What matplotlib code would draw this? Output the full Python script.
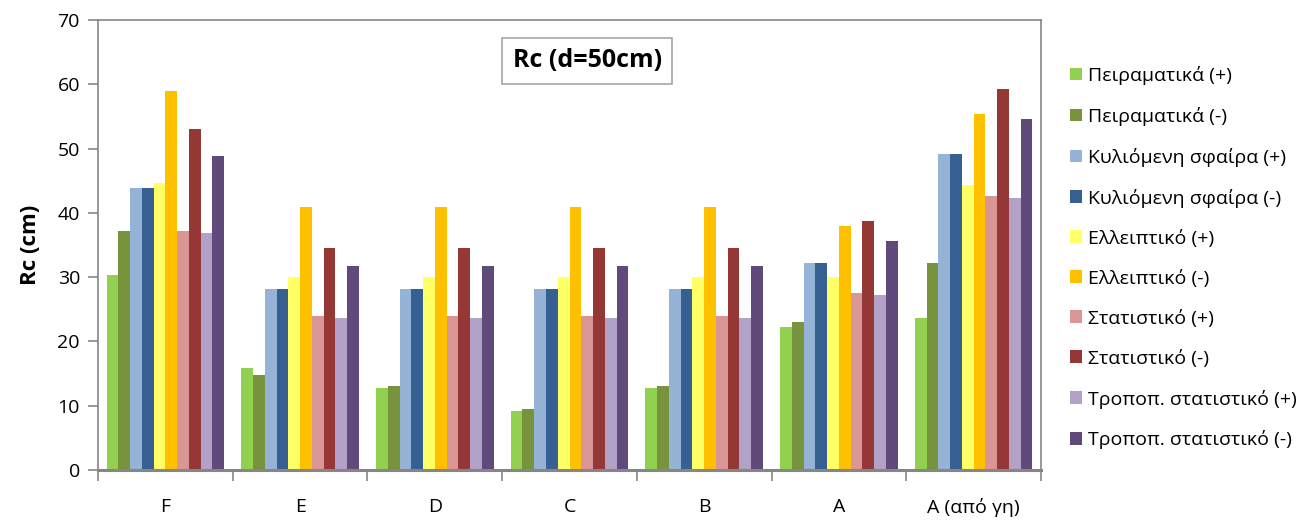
import matplotlib
matplotlib.use("Agg")
import matplotlib.pyplot as plt
import numpy as np
from matplotlib.patches import Patch

plt.rcParams["font.family"] = ["Open Sans", "DejaVu Sans"]

CATEGORIES = ["F", "E", "D", "C", "B", "A", "A (από γη)"]
SERIES_NAMES = [
    "Πειραματικά (+)",
    "Πειραματικά (-)",
    "Κυλιόμενη σφαίρα (+)",
    "Κυλιόμενη σφαίρα (-)",
    "Ελλειπτικό (+)",
    "Ελλειπτικό (-)",
    "Στατιστικό (+)",
    "Στατιστικό (-)",
    "Τροποπ. στατιστικό (+)",
    "Τροποπ. στατιστικό (-)",
]
exp_plus = [30.4, 15.9, 12.8, 9.2, 12.7, 22.3, 23.6]
exp_minus = [37.2, 14.8, 13.1, 9.5, 13.1, 23.1, 32.2]
sphere_plus = [43.8, 28.2, 28.2, 28.2, 28.2, 32.2, 49.1]
sphere_minus = [43.8, 28.2, 28.2, 28.2, 28.2, 32.2, 49.1]
ellip_plus = [44.6, 30.0, 30.0, 30.0, 30.0, 30.0, 44.3]
ellip_minus = [59.0, 40.9, 40.9, 40.9, 40.9, 38.0, 55.4]
stat_plus = [37.2, 24.0, 24.0, 24.0, 24.0, 27.6, 42.6]
stat_minus = [53.0, 34.5, 34.5, 34.5, 34.5, 38.7, 59.2]
mod_plus = [36.8, 23.6, 23.6, 23.6, 23.6, 27.3, 42.3]
mod_minus = [48.9, 31.8, 31.8, 31.8, 31.8, 35.7, 54.6]

COLORS = ["#92D050", "#77933C", "#95B3D7", "#366092", "#FFFF66",
          "#FFC000", "#D99694", "#953735", "#B3A2C7", "#604A7B"]

series = [exp_plus, exp_minus, sphere_plus, sphere_minus, ellip_plus,
          ellip_minus, stat_plus, stat_minus, mod_plus, mod_minus]

AXIS_GRAY = "#868686"

fig = plt.figure(figsize=(13.05, 5.2), dpi=100)
ax = fig.add_axes([98 / 1305, 50 / 520, 943 / 1305, 450 / 520])

x = np.arange(len(CATEGORIES))
n = len(series)
width = 0.0873
for i, (vals, color) in enumerate(zip(series, COLORS)):
    offset = (i - (n - 1) / 2) * width
    ax.bar(x + offset, vals, width, color=color, linewidth=0)

ax.set_xlim(-0.5, len(CATEGORIES) - 0.5)
ax.set_ylim(0, 70)
ax.set_yticks(np.arange(0, 71, 10))
ax.set_xticks(x)
ax.set_xticklabels(CATEGORIES, fontsize=14)
ax.set_xticks(np.arange(-0.5, len(CATEGORIES), 1), minor=True)
ax.tick_params(axis="x", which="major", length=0, pad=20)
ax.tick_params(axis="x", which="minor", length=8, width=1.2, color=AXIS_GRAY, direction="out")
ax.tick_params(axis="y", length=7, width=1.2, color=AXIS_GRAY, labelsize=14, pad=6)
for side, spine in ax.spines.items():
    spine.set_color(AXIS_GRAY)
    spine.set_linewidth(1.2)
ax.spines["bottom"].set_linewidth(2.2)

ax.set_ylabel("Rc (cm)", fontsize=16, fontweight="bold", labelpad=12)

ax.text(0.519, 0.91, "Rc (d=50cm)", transform=ax.transAxes, ha="center", va="center",
        fontsize=18, fontweight="bold",
        bbox=dict(boxstyle="square,pad=0.42", facecolor="white", edgecolor="#A6A6A6", linewidth=1.2))

handles = [Patch(facecolor=c, edgecolor="none") for c in COLORS]
fig.legend(handles, SERIES_NAMES, loc="upper left", bbox_to_anchor=(1060 / 1305, 1 - 56 / 520),
           frameon=False, fontsize=14, handlelength=0.62, handleheight=0.62,
           handletextpad=0.3, labelspacing=1.13, borderpad=0)

fig.savefig("out.png", dpi=100)
